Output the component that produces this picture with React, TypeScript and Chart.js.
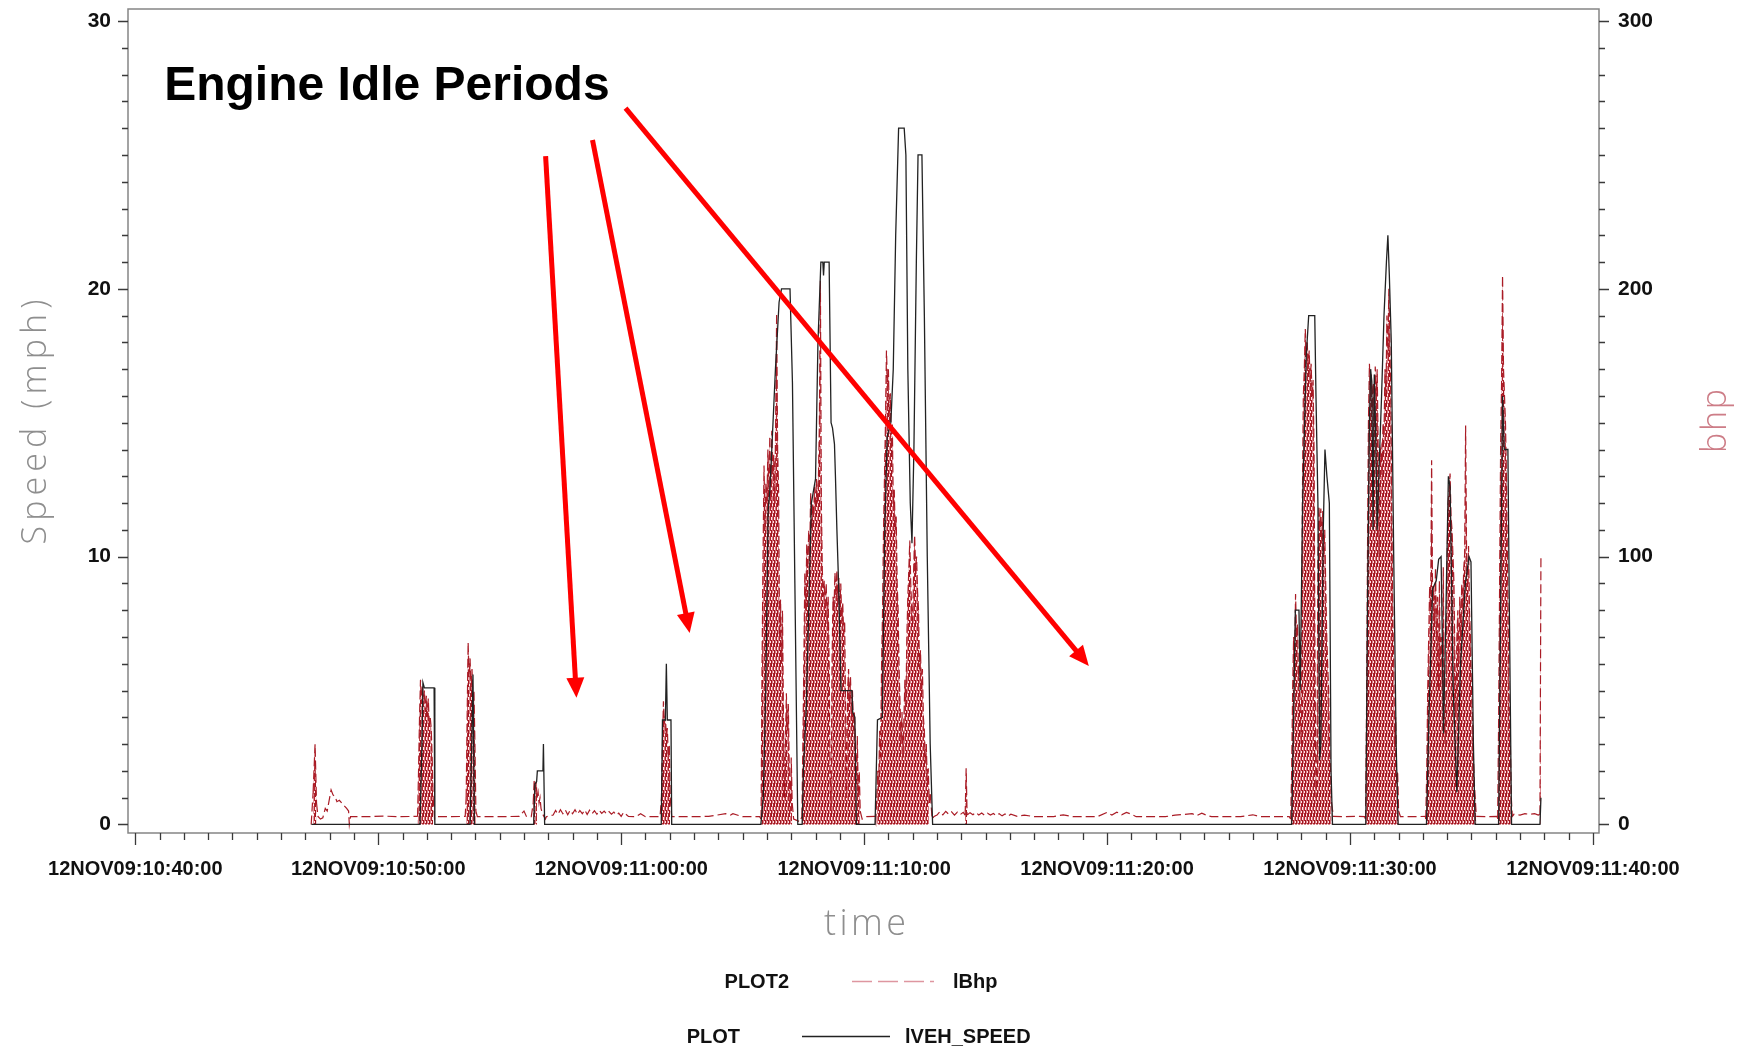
import React, { useEffect, useRef } from 'react';
import { Chart, registerables } from 'chart.js';

Chart.register(...registerables);

// ---------- axis ticks / labels ----------
const xTickMinutes = [0, 10, 20, 30, 40, 50, 60]; // minutes after 10:40:00
const xTickLabels = [
  '12NOV09:10:40:00',
  '12NOV09:10:50:00',
  '12NOV09:11:00:00',
  '12NOV09:11:10:00',
  '12NOV09:11:20:00',
  '12NOV09:11:30:00',
  '12NOV09:11:40:00',
];
const speedTickValues = [0, 10, 20, 30];
const speedTickLabels = ['0', '10', '20', '30'];
const bhpTickValues = [0, 100, 200, 300];
const bhpTickLabels = ['0', '100', '200', '300'];

// ---------- series: vehicle speed (mph) as [minute, value] ----------
const speedPoints: [number, number][] = [
  [7.25, 0], [11.72, 0], [11.8, 3], [11.84, 5.3], [11.9, 5.1], [12.3, 5.1], [12.33, 0],
  [13.78, 0], [13.85, 3], [13.9, 5.6], [13.96, 0],
  [16.4, 0], [16.45, 1.5], [16.52, 1.6], [16.55, 2.0], [16.78, 2.0], [16.8, 3.0], [16.85, 0],
  [21.65, 0], [21.7, 3.9], [21.82, 3.9], [21.86, 6.0], [21.9, 3.9], [22.05, 3.9], [22.08, 0],
  [25.75, 0], [25.85, 1], [25.95, 5], [26.05, 11.7], [26.12, 12.5], [26.2, 14], [26.35, 17], [26.5, 19.5], [26.6, 20], [26.95, 20], [27.05, 16.5], [27.15, 9], [27.27, 0],
  [27.45, 0], [27.5, 2], [27.62, 4.4], [27.72, 8], [27.83, 12], [28.0, 12.9], [28.1, 18], [28.22, 21], [28.3, 21], [28.33, 20.5], [28.36, 21], [28.56, 21], [28.64, 15], [28.7, 14.8], [28.78, 14.2], [28.82, 13], [28.88, 11], [28.95, 9], [29.05, 5], [29.5, 5], [29.53, 4.2], [29.62, 4], [29.68, 0],
  [30.45, 0], [30.55, 3.9], [30.75, 4], [30.85, 11], [30.95, 14.5], [31.1, 15], [31.2, 17], [31.3, 22], [31.42, 26], [31.65, 26], [31.72, 25], [31.8, 17], [31.9, 12], [31.97, 10.5], [32.05, 14], [32.15, 21], [32.22, 25], [32.38, 25], [32.48, 19], [32.6, 10], [32.72, 3], [32.82, 0],
  [47.6, 0], [47.68, 4], [47.75, 8], [47.9, 8], [47.95, 5], [48.05, 12], [48.2, 17.5], [48.3, 19], [48.55, 19], [48.6, 16], [48.68, 12], [48.75, 2.4], [48.8, 3], [48.9, 11], [48.97, 14], [49.05, 13], [49.15, 12], [49.22, 2], [49.28, 0],
  [50.65, 0], [50.72, 8], [50.8, 15], [50.85, 17], [50.9, 16.5], [50.95, 11], [51.0, 16.8], [51.05, 15], [51.12, 11], [51.2, 13.4], [51.3, 16], [51.4, 19], [51.5, 21], [51.56, 22], [51.62, 20.5], [51.7, 18], [51.8, 10], [51.9, 3], [51.98, 0],
  [53.15, 0], [53.25, 4], [53.4, 8.8], [53.55, 9.1], [53.65, 9.9], [53.75, 10], [53.8, 7], [53.85, 3.4], [53.95, 8], [54.05, 13], [54.12, 12.6], [54.25, 5], [54.4, 1.2], [54.55, 6], [54.75, 9], [54.9, 10], [54.98, 9.8], [55.08, 3], [55.15, 0],
  [56.12, 0], [56.2, 8], [56.28, 16], [56.35, 14], [56.5, 14], [56.56, 8], [56.65, 0],
  [57.82, 0], [57.86, 1],
];

// ---------- series: brake horsepower (bhp) as [minute, value] ----------
const bhpWarmup: [number, number][] = [
  [7.24, 0], [7.32, 12], [7.4, 30], [7.46, 8], [7.52, 3], [7.62, 2], [7.72, 2.5], [7.82, 6], [7.9, 5], [7.98, 9],
  [8.06, 12.9], [8.14, 11], [8.22, 10.5], [8.3, 8.5], [8.4, 9], [8.5, 8], [8.6, 7], [8.7, 6], [8.78, 5], [8.81, 0],
  [8.86, 2.9], [9.5, 2.9], [10.2, 3.1], [10.9, 2.9], [11.62, 3],
];
const bhpStop1: [number, number][] = [
  [11.66, 20], [11.7, 40], [11.74, 54], [11.78, 45], [11.82, 52], [11.86, 44], [11.9, 50], [11.94, 42], [11.98, 48],
  [12.02, 40], [12.06, 47], [12.1, 38], [12.14, 40], [12.18, 36], [12.22, 25], [12.26, 10], [12.32, 2], [12.4, 2.9],
  [13.0, 2.9], [13.58, 3],
];
const bhpStop2: [number, number][] = [
  [13.62, 10], [13.66, 40], [13.7, 68], [13.74, 55], [13.78, 62], [13.82, 50], [13.86, 58], [13.9, 45], [13.94, 50],
  [13.98, 30], [14.02, 5], [14.08, 2.9], [15.0, 2.9], [15.8, 3], [16.0, 5], [16.1, 3], [16.3, 2.9],
];
const bhpStop3: [number, number][] = [
  [16.38, 8], [16.42, 16.6], [16.46, 12], [16.5, 16], [16.54, 10], [16.58, 12], [16.62, 8], [16.66, 10], [16.7, 6],
  [16.76, 4], [16.82, 3], [16.88, 2], [16.92, 2.9],
];
const bhpIdleLong1: [number, number][] = [
  [17.2, 3.5], [17.3, 5.2], [17.4, 3.8], [17.5, 5.5], [17.6, 4], [17.7, 5.4], [17.8, 3.6], [17.9, 5.3], [18.0, 4], [18.1, 5.5],
  [18.2, 3.8], [18.3, 5.2], [18.4, 4], [18.5, 5.4], [18.6, 3.7], [18.7, 5.3], [18.8, 4], [18.9, 5.1], [19.0, 3.8], [19.1, 5.2],
  [19.2, 4.1], [19.3, 5], [19.4, 3.9], [19.5, 4.8], [19.6, 3.8], [19.7, 4.6], [19.8, 3.5], [19.9, 4.2], [20.0, 3], [20.1, 4.5],
  [20.3, 3], [20.6, 2.9], [20.8, 4], [21.0, 2.9], [21.6, 2.9],
];
const bhpStop4: [number, number][] = [
  [21.66, 10], [21.7, 30], [21.74, 46], [21.78, 38], [21.82, 40], [21.86, 33], [21.9, 36], [21.94, 25], [21.98, 30],
  [22.02, 10], [22.08, 2.9], [23.0, 2.9], [23.6, 3], [24.3, 4], [24.5, 3.5], [24.6, 4], [25.0, 2.9], [25.7, 2.9],
];
const bhpDrive1: [number, number][] = [
  [25.76, 2], [25.8, 60], [25.84, 100], [25.88, 134], [25.92, 110], [25.96, 128], [26.0, 120], [26.04, 140], [26.08, 125],
  [26.12, 145], [26.16, 118], [26.2, 147], [26.24, 130], [26.28, 138], [26.32, 120], [26.36, 150], [26.4, 191], [26.44, 140],
  [26.48, 125], [26.52, 70], [26.56, 84], [26.6, 60], [26.64, 80], [26.68, 40], [26.72, 10], [26.76, 30], [26.8, 49],
  [26.84, 35], [26.88, 45], [26.92, 20], [26.96, 5], [27.0, 25], [27.04, 8], [27.1, 2], [27.36, 1],
];
const bhpDrive2: [number, number][] = [
  [27.44, 3], [27.48, 30], [27.52, 60], [27.56, 94], [27.6, 80], [27.64, 105], [27.68, 95], [27.72, 110], [27.76, 100],
  [27.8, 124], [27.84, 110], [27.88, 120], [27.92, 115], [27.96, 126], [28.0, 118], [28.04, 129], [28.08, 120], [28.12, 129],
  [28.16, 150], [28.2, 203], [28.24, 120], [28.28, 95], [28.32, 85], [28.36, 91], [28.4, 80], [28.44, 90], [28.48, 75],
  [28.52, 85], [28.56, 60], [28.6, 20], [28.64, 5], [28.68, 60], [28.72, 85], [28.76, 80], [28.8, 94], [28.84, 85],
  [28.88, 95], [28.92, 82], [28.96, 92], [29.0, 80], [29.04, 90], [29.08, 75], [29.12, 83], [29.16, 70], [29.2, 76],
  [29.24, 40], [29.28, 10], [29.32, 50], [29.36, 58], [29.4, 45], [29.44, 55], [29.48, 40], [29.52, 50], [29.56, 35],
  [29.6, 42], [29.64, 30], [29.68, 15], [29.72, 33], [29.76, 10], [29.8, 20], [29.84, 5], [29.92, 2], [30.1, 2.9], [30.44, 3],
];
const bhpDrive3: [number, number][] = [
  [30.48, 1], [30.52, 10], [30.56, 20], [30.6, 15], [30.64, 35], [30.68, 25], [30.72, 60], [30.76, 80], [30.8, 110],
  [30.84, 130], [30.88, 150], [30.92, 177], [30.96, 165], [31.0, 170], [31.04, 150], [31.08, 161], [31.12, 140], [31.16, 150],
  [31.2, 120], [31.24, 125], [31.28, 110], [31.32, 115], [31.36, 90], [31.4, 80], [31.44, 58], [31.48, 45], [31.52, 30],
  [31.56, 42], [31.6, 25], [31.64, 40], [31.68, 54], [31.72, 45], [31.76, 70], [31.8, 85], [31.84, 95], [31.88, 106],
  [31.92, 90], [31.96, 80], [32.0, 76], [32.04, 95], [32.08, 108], [32.12, 95], [32.16, 100], [32.2, 87], [32.24, 80],
  [32.28, 58], [32.32, 65], [32.36, 50], [32.4, 58], [32.44, 40], [32.48, 35], [32.52, 23], [32.56, 30], [32.6, 15],
  [32.64, 21], [32.68, 8], [32.72, 12], [32.8, 2], [32.88, 3],
];
const bhpIdleLong2: [number, number][] = [
  [33.0, 3.5], [33.12, 4.8], [33.24, 3.6], [33.36, 4.9], [33.48, 3.8], [33.6, 4.7], [33.72, 3.5], [33.84, 4.6], [33.96, 3.7], [34.08, 4.5],
  [34.16, 3.5], [34.2, 21], [34.24, 3.5], [34.36, 4.4], [34.48, 3.6], [34.6, 4.5], [34.72, 3.5], [34.84, 4.3], [34.96, 3.4], [35.08, 4.2],
  [35.2, 3.5], [35.32, 4.1], [35.44, 3.3], [35.56, 4], [35.68, 3.2], [35.8, 3.9], [35.92, 3.1], [36.04, 3.8], [36.3, 3], [36.6, 3.5],
  [37.0, 2.9], [37.8, 2.9], [38.2, 3.6], [38.6, 2.9], [39.6, 2.9], [40.0, 4.5], [40.2, 3.5], [40.4, 4.6], [40.6, 3.6], [40.8, 4.5],
  [41.0, 3.8], [41.2, 2.9], [42.4, 2.9], [42.8, 3.5], [43.5, 4], [43.7, 3.3], [43.9, 4.2], [44.1, 3.4], [44.3, 2.9], [45.5, 2.9],
  [46.0, 3.6], [46.3, 2.9], [47.5, 2.9],
];
const bhpDrive4: [number, number][] = [
  [47.56, 2], [47.6, 20], [47.64, 50], [47.68, 70], [47.72, 60], [47.76, 86], [47.8, 70], [47.84, 75], [47.88, 55],
  [47.92, 60], [47.96, 40], [48.0, 30], [48.04, 120], [48.08, 160], [48.12, 170], [48.16, 185], [48.2, 175], [48.24, 180],
  [48.28, 170], [48.32, 177], [48.36, 165], [48.4, 172], [48.44, 160], [48.48, 166], [48.52, 140], [48.56, 60], [48.6, 10],
  [48.64, 20], [48.68, 100], [48.72, 119], [48.76, 110], [48.8, 118], [48.84, 105], [48.88, 117], [48.92, 100], [48.96, 110],
  [49.0, 90], [49.04, 71], [49.08, 60], [49.12, 50], [49.16, 30], [49.2, 20], [49.24, 8], [49.32, 3],
  [49.8, 2.9], [50.3, 3], [50.6, 2.9],
];
const bhpDrive5: [number, number][] = [
  [50.64, 2], [50.68, 40], [50.72, 100], [50.76, 150], [50.8, 172], [50.84, 160], [50.88, 168], [50.92, 155], [50.96, 165],
  [51.0, 150], [51.04, 171], [51.08, 160], [51.12, 170], [51.16, 140], [51.2, 100], [51.24, 139], [51.28, 141], [51.32, 130],
  [51.36, 150], [51.4, 145], [51.44, 170], [51.48, 160], [51.52, 190], [51.56, 175], [51.6, 200], [51.64, 180], [51.68, 160],
  [51.72, 120], [51.76, 80], [51.8, 60], [51.84, 30], [51.88, 40], [51.92, 15], [51.96, 20], [52.0, 5], [52.08, 2.9],
  [52.6, 2.9], [53.1, 3],
];
const bhpDrive6: [number, number][] = [
  [53.12, 2], [53.16, 20], [53.2, 50], [53.24, 70], [53.28, 89], [53.32, 80], [53.36, 136], [53.4, 85], [53.44, 89],
  [53.48, 75], [53.52, 96], [53.56, 70], [53.6, 85], [53.64, 50], [53.68, 91], [53.72, 60], [53.76, 70], [53.8, 50],
  [53.84, 96], [53.88, 40], [53.92, 30], [53.96, 60], [54.0, 100], [54.04, 120], [54.08, 125], [54.12, 131], [54.16, 115],
  [54.2, 110], [54.24, 100], [54.28, 90], [54.32, 60], [54.36, 40], [54.4, 70], [54.44, 80], [54.48, 60], [54.52, 85],
  [54.56, 70], [54.6, 90], [54.64, 80], [54.68, 95], [54.72, 101], [54.76, 149], [54.8, 100], [54.84, 90], [54.88, 104],
  [54.92, 80], [54.96, 70], [55.0, 50], [55.04, 40], [55.08, 25], [55.12, 15], [55.2, 3], [55.6, 2.9], [56.05, 3],
];
const bhpDrive7: [number, number][] = [
  [56.08, 2], [56.12, 40], [56.16, 90], [56.2, 140], [56.24, 165], [56.28, 205], [56.32, 170], [56.36, 160], [56.4, 150],
  [56.44, 130], [56.48, 100], [56.52, 70], [56.56, 40], [56.6, 30], [56.64, 10], [56.68, 3],
  [56.75, 3.8], [57.0, 3.5], [57.2, 4], [57.4, 3.8], [57.6, 4], [57.75, 3.5], [57.82, 3.8], [57.86, 100],
];

// ---------- annotation (in data units: minutes / mph) ----------
const annotationLabel = 'Engine Idle Periods';
const annotationAnchor = { min: 1.19, mph: 27.05 };
const idleArrows = [
  { from: { min: 16.89, mph: 24.96 }, to: { min: 18.16, mph: 4.73 } },
  { from: { min: 18.82, mph: 25.56 }, to: { min: 22.82, mph: 7.15 } },
  { from: { min: 20.18, mph: 26.75 }, to: { min: 39.25, mph: 5.92 } },
];

const bhpPoints: [number, number][] = [
  ...bhpWarmup, ...bhpStop1, ...bhpStop2, ...bhpStop3, ...bhpIdleLong1, ...bhpStop4,
  ...bhpDrive1, ...bhpDrive2, ...bhpDrive3, ...bhpIdleLong2, ...bhpDrive4, ...bhpDrive5,
  ...bhpDrive6, ...bhpDrive7,
];

const RED = 'rgb(170, 28, 38)';
const FILL_THRESHOLD_BHP = 14;
const TICK_FONT = '"Liberation Sans", Arial, Helvetica, sans-serif';

// texture that imitates the densely packed dashed strokes of the original
function makeDenseRedPattern(): CanvasPattern | string {
  const c = document.createElement('canvas');
  c.width = 3;
  c.height = 10;
  const g = c.getContext('2d');
  if (!g) return RED;
  g.clearRect(0, 0, 3, 10);
  // column 0: dark red dash with a white gap
  g.fillStyle = 'rgb(160, 22, 32)';
  g.fillRect(0, 0, 1, 7);
  g.fillStyle = 'rgba(255, 235, 235, 1)';
  g.fillRect(0, 7, 1, 3);
  // column 1: lighter pink-red
  g.fillStyle = 'rgb(215, 120, 128)';
  g.fillRect(1, 0, 1, 10);
  g.fillStyle = 'rgba(255, 240, 240, 1)';
  g.fillRect(1, 4, 1, 2);
  // column 2: red dash, gap offset
  g.fillStyle = 'rgb(178, 36, 46)';
  g.fillRect(2, 0, 1, 10);
  g.fillStyle = 'rgba(255, 225, 228, 1)';
  g.fillRect(2, 1, 1, 2);
  const p = g.createPattern(c, 'repeat');
  return p || RED;
}

function drawSpaced(ctx: CanvasRenderingContext2D, text: string, cx: number, cy: number, rot: number,
  font: string, color: string, targetW: number) {
  ctx.save();
  ctx.font = font;
  (ctx as any).letterSpacing = '0px';
  const w0 = ctx.measureText(text).width;
  const sp = Math.max(0, (targetW - w0) / Math.max(1, text.length - 1));
  (ctx as any).letterSpacing = sp + 'px';
  ctx.translate(cx, cy);
  ctx.rotate(rot);
  ctx.textAlign = 'center';
  ctx.textBaseline = 'middle';
  ctx.fillStyle = color;
  ctx.fillText(text, sp / 2, 0);
  ctx.restore();
}

const overlayPlugin = {
  id: 'overlay',
  afterDraw(chart: any) {
    const { ctx, chartArea: ca, scales } = chart;
    const sx = scales.x, sy = scales.y, sy2 = scales.y2;
    ctx.save();

    // frame
    ctx.strokeStyle = '#858585';
    ctx.lineWidth = 1.5;
    ctx.strokeRect(ca.left, ca.top, ca.right - ca.left, ca.bottom - ca.top);

    // tick marks
    ctx.strokeStyle = '#3a3a3a';
    ctx.lineWidth = 1.3;
    ctx.beginPath();
    for (let m = 0; m <= 60; m++) {
      const px = Math.round(sx.getPixelForValue(m)) + 0.5;
      const len = m % 10 === 0 ? 12 : 7;
      ctx.moveTo(px, ca.bottom);
      ctx.lineTo(px, ca.bottom + len);
    }
    for (let v = 0; v <= 30; v++) {
      const py = Math.round(sy.getPixelForValue(v)) + 0.5;
      const len = v % 10 === 0 ? 10 : 6;
      ctx.moveTo(ca.left - len, py);
      ctx.lineTo(ca.left, py);
    }
    for (let v = 0; v <= 300; v += 10) {
      const py = Math.round(sy2.getPixelForValue(v)) + 0.5;
      const len = v % 100 === 0 ? 10 : 6;
      ctx.moveTo(ca.right, py);
      ctx.lineTo(ca.right + len, py);
    }
    ctx.stroke();

    // axis titles
    drawSpaced(ctx, 'Speed (mph)', 36, 422, -Math.PI / 2, '300 34px "Open Sans", sans-serif', '#8e8e8e', 245);
    drawSpaced(ctx, 'time', 865, 925, 0, '300 36px "Open Sans", sans-serif', '#8e8e8e', 82);
    drawSpaced(ctx, 'bhp', 1716, 421, -Math.PI / 2, '300 34px "Open Sans", sans-serif', 'rgb(205, 125, 135)', 64);

    // annotation text
    ctx.font = `bold 48px ${TICK_FONT}`;
    ctx.fillStyle = '#000';
    ctx.textAlign = 'left';
    ctx.textBaseline = 'alphabetic';
    ctx.fillText(annotationLabel, sx.getPixelForValue(annotationAnchor.min), sy.getPixelForValue(annotationAnchor.mph));

    // arrows
    ctx.strokeStyle = '#ff0000';
    ctx.fillStyle = '#ff0000';
    ctx.lineWidth = 5;
    ctx.lineCap = 'butt';
    for (const a of idleArrows) {
      const x0 = sx.getPixelForValue(a.from.min), y0 = sy.getPixelForValue(a.from.mph);
      const x1 = sx.getPixelForValue(a.to.min), y1 = sy.getPixelForValue(a.to.mph);
      const ang = Math.atan2(y1 - y0, x1 - x0);
      const headLen = 20, headHalf = 9;
      const bx = x1 - headLen * Math.cos(ang), by = y1 - headLen * Math.sin(ang);
      ctx.beginPath();
      ctx.moveTo(x0, y0);
      ctx.lineTo(bx + 2 * Math.cos(ang), by + 2 * Math.sin(ang));
      ctx.stroke();
      ctx.beginPath();
      ctx.moveTo(x1, y1);
      ctx.lineTo(bx + headHalf * Math.sin(ang), by - headHalf * Math.cos(ang));
      ctx.lineTo(bx - headHalf * Math.sin(ang), by + headHalf * Math.cos(ang));
      ctx.closePath();
      ctx.fill();
    }

    // legend
    ctx.font = `bold 20px ${TICK_FONT}`;
    ctx.fillStyle = '#111';
    ctx.textBaseline = 'middle';
    ctx.textAlign = 'right';
    ctx.fillText('PLOT2', 789, 982);
    ctx.fillText('PLOT', 740, 1037);
    ctx.textAlign = 'left';
    ctx.fillText('lBhp', 953, 982);
    ctx.fillText('lVEH_SPEED', 905, 1037);
    ctx.lineWidth = 1.5;
    ctx.strokeStyle = 'rgb(222, 150, 160)';
    ctx.setLineDash([20, 6]);
    ctx.beginPath();
    ctx.moveTo(852, 981.5);
    ctx.lineTo(934, 981.5);
    ctx.stroke();
    ctx.setLineDash([]);
    ctx.strokeStyle = '#222';
    ctx.beginPath();
    ctx.moveTo(802, 1036.5);
    ctx.lineTo(890, 1036.5);
    ctx.stroke();

    ctx.restore();
  },
};

export default function App() {
  const ref = useRef<HTMLCanvasElement>(null);
  useEffect(() => {
    document.body.style.margin = '0';
    document.body.style.overflow = 'hidden';
    document.body.style.background = '#fff';
    const canvas = ref.current!;
    const densePattern = makeDenseRedPattern();
    const chart = new Chart(canvas, {
      type: 'line',
      data: {
        datasets: [
          {
            label: 'lVEH_SPEED',
            data: speedPoints.map(([x, y]) => ({ x, y })),
            yAxisID: 'y',
            borderColor: 'rgb(34, 34, 34)',
            borderWidth: 1.3,
            pointRadius: 0,
            tension: 0,
            fill: false,
          },
          {
            label: 'lBhp',
            data: bhpPoints.map(([x, y]) => ({ x, y })),
            yAxisID: 'y2',
            borderColor: RED,
            backgroundColor: 'rgba(0,0,0,0)',
            borderWidth: 1.2,
            borderDash: [9, 4],
            pointRadius: 0,
            tension: 0,
            fill: 'origin',
            segment: {
              backgroundColor: (c: any) =>
                Math.max(c.p0.parsed.y, c.p1.parsed.y) > FILL_THRESHOLD_BHP ? densePattern : 'rgba(0,0,0,0)',
            },
          },
        ],
      },
      options: {
        responsive: false,
        maintainAspectRatio: false,
        devicePixelRatio: 1,
        animation: false,
        events: [],
        layout: { padding: { top: 9, left: 0, right: 0, bottom: 0 } },
        plugins: { legend: { display: false }, tooltip: { enabled: false }, title: { display: false } },
        scales: {
          x: {
            type: 'linear',
            min: -0.3,
            max: 60.25,
            grid: { display: false, drawTicks: false },
            border: { display: false },
            afterBuildTicks: (s: any) => { s.ticks = xTickMinutes.map((v) => ({ value: v })); },
            afterFit: (s: any) => { s.height = 221; s.paddingLeft = 0; s.paddingRight = 0; },
            ticks: {
              autoSkip: false,
              maxRotation: 0,
              minRotation: 0,
              padding: 24,
              color: '#111',
              font: { family: TICK_FONT, size: 20, weight: 'bold' },
              callback: (_v: any, i: number) => xTickLabels[i],
            },
          },
          y: {
            type: 'linear',
            position: 'left',
            min: -0.32,
            max: 30.45,
            grid: { display: false, drawTicks: false },
            border: { display: false },
            afterBuildTicks: (s: any) => { s.ticks = speedTickValues.map((v) => ({ value: v })); },
            afterFit: (s: any) => { s.width = 128; s.paddingTop = 0; s.paddingBottom = 0; },
            ticks: {
              autoSkip: false,
              padding: 17,
              color: '#111',
              font: { family: TICK_FONT, size: 21, weight: 'bold' },
              callback: (_v: any, i: number) => speedTickLabels[i],
            },
          },
          y2: {
            type: 'linear',
            position: 'right',
            min: -3.2,
            max: 304.5,
            grid: { display: false, drawTicks: false },
            border: { display: false },
            afterBuildTicks: (s: any) => { s.ticks = bhpTickValues.map((v) => ({ value: v })); },
            afterFit: (s: any) => { s.width = 148; s.paddingTop = 0; s.paddingBottom = 0; },
            ticks: {
              autoSkip: false,
              padding: 19,
              color: '#111',
              font: { family: TICK_FONT, size: 21, weight: 'bold' },
              callback: (_v: any, i: number) => bhpTickLabels[i],
            },
          },
        },
      } as any,
      plugins: [overlayPlugin],
    });
    return () => chart.destroy();
  }, []);
  return (
    <canvas
      ref={ref}
      width={1747}
      height={1054}
      style={{ display: 'block', width: '1747px', height: '1054px' }}
    />
  );
}
